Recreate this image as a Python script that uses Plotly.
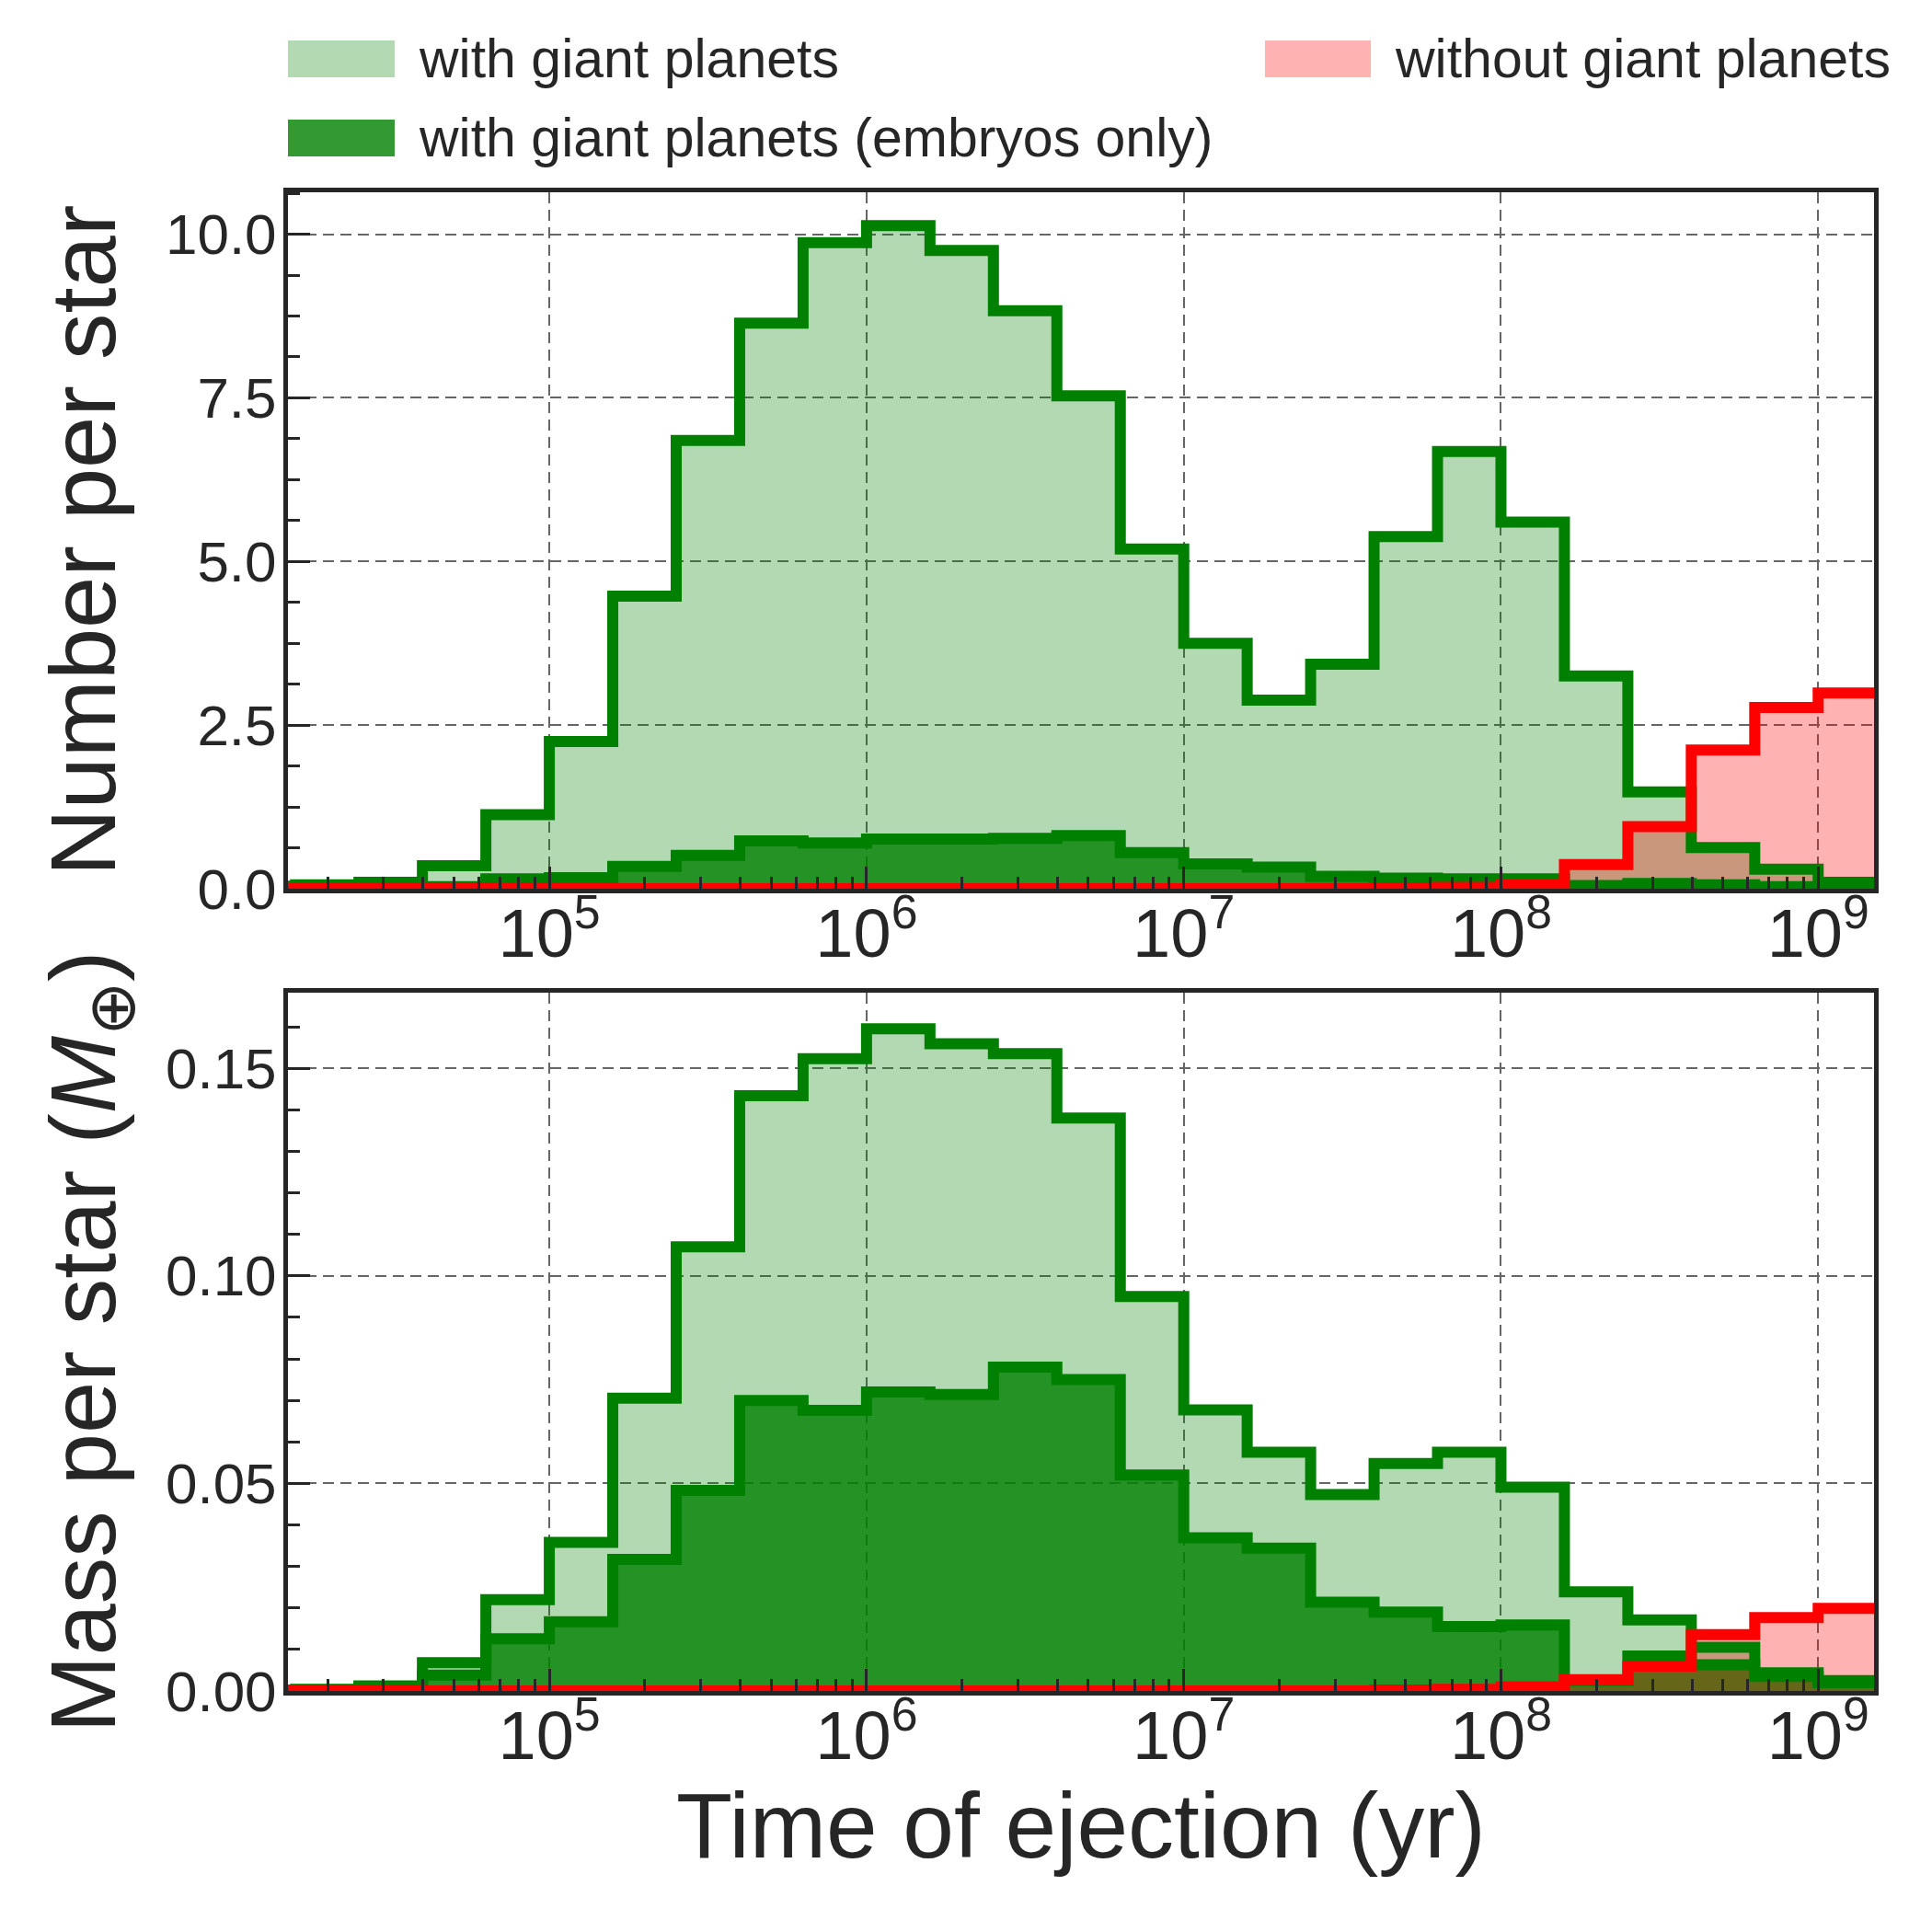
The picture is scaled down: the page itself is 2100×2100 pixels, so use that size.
import math
import plotly.graph_objects as go

# ---------------- data ----------------
# bin edges as log10(time / yr), 0.2 dex bins
log_edges = [4.0, 4.2, 4.4, 4.6, 4.8, 5.0, 5.2, 5.4, 5.6, 5.8, 6.0, 6.2, 6.4,
             6.6, 6.8, 7.0, 7.2, 7.4, 7.6, 7.8, 8.0, 8.2, 8.4, 8.6, 8.8, 9.0, 9.2]

# Number per star
n_with = [0.04, 0.06, 0.10, 0.35, 1.13, 2.25, 4.47, 6.85, 8.64, 9.87, 10.13, 9.75, 8.83,
          7.53, 5.19, 3.75, 2.88, 3.43, 5.38, 6.68, 5.60, 3.25, 1.48, 0.63, 0.30, 0.10]
n_embryos = [0.00, 0.00, 0.01, 0.03, 0.15, 0.17, 0.34, 0.51, 0.73, 0.70, 0.76, 0.76, 0.77,
             0.81, 0.55, 0.38, 0.33, 0.19, 0.16, 0.15, 0.15, 0.05, 0.08, 0.06, 0.03, 0.01]
n_without = [0.0, 0.0, 0.0, 0.0, 0.0, 0.0, 0.0, 0.0, 0.0, 0.0, 0.0, 0.0, 0.0,
             0.0, 0.0, 0.0, 0.0, 0.005, 0.01, 0.02, 0.07, 0.37, 0.95, 2.12, 2.77, 2.99]

# Mass per star (Earth masses)
m_with = [0.0002, 0.0004, 0.0012, 0.0068, 0.022, 0.0358, 0.0705, 0.107, 0.1434, 0.1523,
          0.1595, 0.1559, 0.1535, 0.138, 0.095, 0.0677, 0.0575, 0.0473, 0.0548, 0.0575,
          0.0491, 0.0239, 0.0171, 0.0105, 0.0044, 0.0025]
m_embryos = [0.0001, 0.0003, 0.001, 0.0038, 0.0126, 0.0167, 0.0317, 0.0483, 0.070, 0.0676,
             0.072, 0.0714, 0.078, 0.075, 0.052, 0.0369, 0.0344, 0.0214, 0.019, 0.0155,
             0.0159, 0.0025, 0.0084, 0.0063, 0.0035, 0.002]
m_without = [0.0, 0.0, 0.0, 0.0, 0.0, 0.0, 0.0, 0.0, 0.0, 0.0, 0.0, 0.0, 0.0,
             0.0, 0.0, 0.0, 0.0, 0.0, 0.0002, 0.0004, 0.001, 0.0027, 0.006, 0.0136, 0.0177, 0.0199]

x_tickvals = [1e5, 1e6, 1e7, 1e8, 1e9]
x_ticktext = ["10<sup>5</sup>", "10<sup>6</sup>", "10<sup>7</sup>", "10<sup>8</sup>", "10<sup>9</sup>"]

labels = ["with giant planets", "with giant planets (embryos only)", "without giant planets"]

# ---------------- styling ----------------
W = H = 2100
L, R, T, B = 313, 2037, 209, 1838           # plot-area pixel box
TOP_BOTTOM_PX = 966                          # bottom of upper panel
BOT_TOP_PX = 1079                            # top of lower panel
ph = B - T

FONT = "Liberation Sans, Arial, Helvetica, sans-serif"
INK = "#262626"
GREEN = "#008000"
RED = "#ff0000"
FILL_LIGHT = "rgba(0,128,0,0.3)"
FILL_DARK = "rgba(0,128,0,0.8)"
FILL_RED = "rgba(255,0,0,0.3)"
LW = 12

edges = [10 ** e for e in log_edges]


def stepped(vals):
    return list(vals) + [vals[-1]]


fig = go.Figure()

panels = [
    ("x", "y", n_with, n_embryos, n_without),
    ("x2", "y2", m_with, m_embryos, m_without),
]
for xa, ya, v_with, v_emb, v_wo in panels:
    # fills first
    for vals, fc in [(v_with, FILL_LIGHT), (v_emb, FILL_DARK), (v_wo, FILL_RED)]:
        fig.add_trace(go.Scatter(
            x=edges, y=stepped(vals), xaxis=xa, yaxis=ya, mode="lines",
            line=dict(width=0, shape="hv"), fill="tozeroy", fillcolor=fc,
            hoverinfo="skip", showlegend=False))
    # outlines on top
    for vals, lc in [(v_with, GREEN), (v_emb, GREEN), (v_wo, RED)]:
        fig.add_trace(go.Scatter(
            x=edges, y=stepped(vals), xaxis=xa, yaxis=ya, mode="lines",
            line=dict(width=LW, shape="hv", color=lc),
            hoverinfo="skip", showlegend=False))

x_range = [math.log10(1.5e4), math.log10(1.5e9)]
minor_x = [m * 10 ** d for d in range(4, 10) for m in range(2, 10)
           if 1.5e4 <= m * 10 ** d <= 1.5e9]

grid = dict(showgrid=True, gridcolor="#666666", gridwidth=2, griddash="12px,7px")
common = dict(showline=True, linecolor=INK, linewidth=5, mirror=True,
              ticks="inside", ticklen=24, tickwidth=3, tickcolor=INK,
              zeroline=False, layer="above traces", **grid)

xcommon = dict(type="log", range=x_range, tickvals=x_tickvals, ticktext=x_ticktext,
               tickfont=dict(family=FONT, size=74, color=INK),
               minor=dict(ticks="inside", ticklen=13, tickwidth=2.5, tickcolor=INK,
                          tickvals=minor_x, showgrid=False),
               ticklabelstandoff=-20, **common)

ytick_font = dict(family=FONT, size=62, color=INK)
ytitle_font = dict(family=FONT, size=101, color=INK)

top_dom = [(B - TOP_BOTTOM_PX) / ph, 1.0]
bot_dom = [0.0, (B - BOT_TOP_PX) / ph]

fig.update_layout(
    width=W, height=H,
    margin=dict(l=L, r=W - R, t=T, b=H - B, pad=0),
    paper_bgcolor="white", plot_bgcolor="white",
    font=dict(family=FONT, color=INK),
    showlegend=False,
    xaxis=dict(domain=[0, 1], anchor="y", **xcommon),
    xaxis2=dict(domain=[0, 1], anchor="y2",
                title=dict(text="Time of ejection (yr)",
                           font=dict(family=FONT, size=100, color=INK), standoff=16),
                **xcommon),
    yaxis=dict(domain=top_dom, anchor="x", range=[0, 10.64], tick0=0, dtick=2.5,
               tickformat=".1f", tickfont=ytick_font,
               minor=dict(ticks="inside", ticklen=13, tickwidth=2.5, tickcolor=INK,
                          tick0=0, dtick=0.625, showgrid=False),
               title=dict(text="Number per star", font=ytitle_font, standoff=22),
               ticklabelstandoff=-5, **common),
    yaxis2=dict(domain=bot_dom, anchor="x2", range=[0, 0.1682], tick0=0, dtick=0.05,
                tickformat=".2f", tickfont=ytick_font,
                minor=dict(ticks="inside", ticklen=13, tickwidth=2.5, tickcolor=INK,
                           tick0=0, dtick=0.01, showgrid=False),
                title=dict(text="Mass per star (<i>M</i><sub>⊕</sub>)",
                           font=ytitle_font, standoff=22),
                ticklabelstandoff=-5, **common),
)


# ---------------- manual legend (2 columns) ----------------
def px_x(p):
    return (p - L) / (R - L)


def px_y(p):
    return (B - p) / ph


legend_items = [
    (313, 429, 44, 84, FILL_LIGHT, 453, 64, labels[0]),
    (313, 429, 130, 170, FILL_DARK, 453, 150, labels[1]),
    (1375, 1490, 44, 84, FILL_RED, 1514, 64, labels[2]),
]
for x0, x1, y0, y1, fc, tx, ty, txt in legend_items:
    fig.add_shape(type="rect", xref="paper", yref="paper",
                  x0=px_x(x0), x1=px_x(x1), y0=px_y(y1), y1=px_y(y0),
                  fillcolor=fc, line=dict(width=0))
    fig.add_annotation(xref="paper", yref="paper", x=px_x(tx), y=px_y(ty),
                       xanchor="left", yanchor="middle", showarrow=False,
                       text=txt, font=dict(family=FONT, size=59, color=INK))

fig.write_html("out.html")
